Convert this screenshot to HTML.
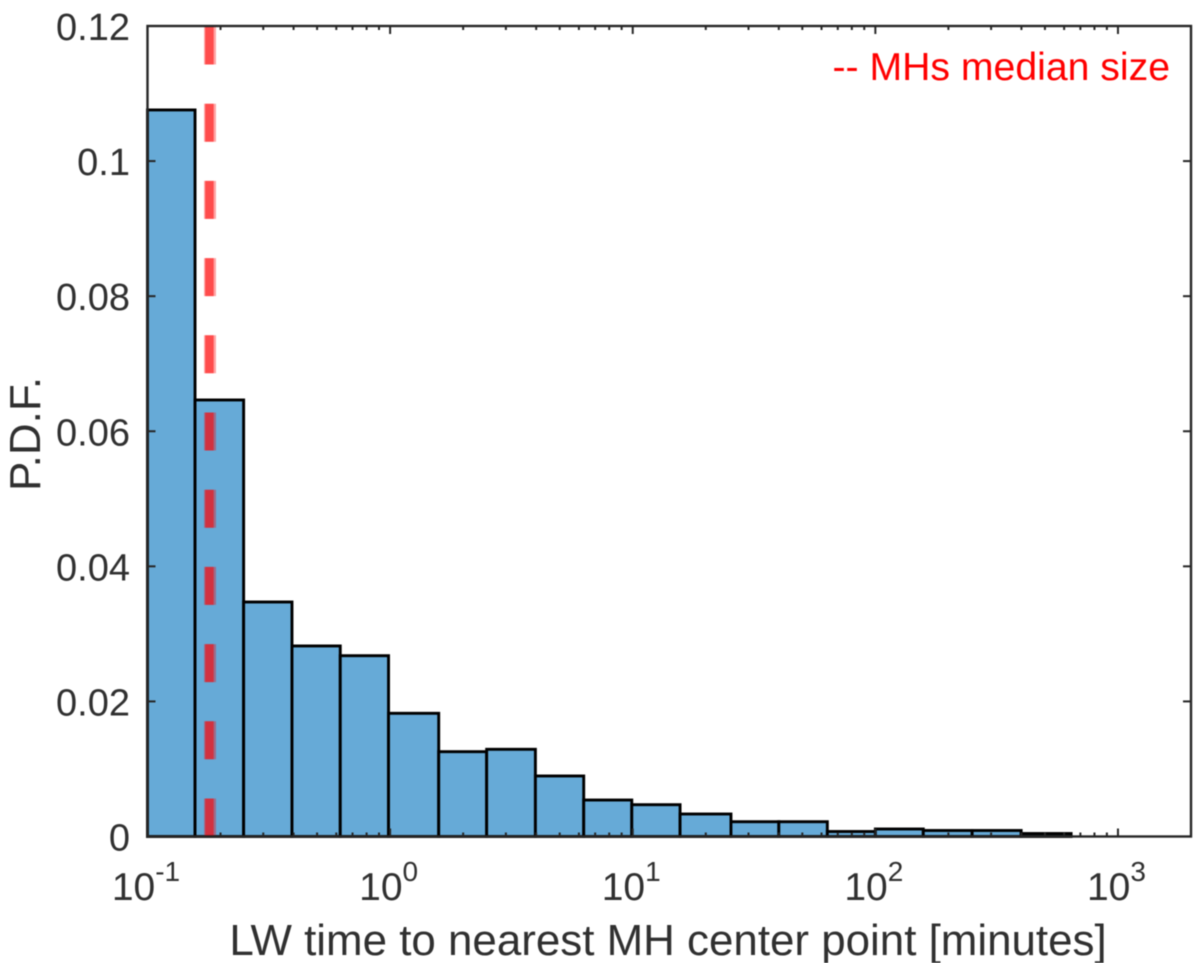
<!DOCTYPE html>
<html lang="en">
<head>
<meta charset="utf-8">
<title>LW time to nearest MH center point</title>
<style>
  html, body { margin: 0; padding: 0; background: #fff; }
  body { width: 1200px; height: 963px; overflow: hidden; }
  svg { display: block; filter: blur(0.5px); }
  text { font-family: "Liberation Sans", Arial, sans-serif; fill: #303030; }
</style>
</head>
<body>
<svg id="chart" xmlns="http://www.w3.org/2000/svg" width="1200" height="963" viewBox="0 0 1200 963">
  <rect x="0" y="0" width="1200" height="963" fill="#ffffff"></rect>
  <g id="bars"></g>
  <g id="median"></g>
  <g id="axes"></g>
  <text x="668" y="955" text-anchor="middle" font-size="43.9">LW time to nearest MH center point [minutes]</text>
  <text transform="translate(40 491) rotate(-90)" font-size="44">P.D.F.</text>
  <text x="1170" y="80" text-anchor="end" font-size="39.2" style="fill:#ff0000">-- MHs median size</text>
</svg>
<script>
const binEdges = [0.1, 0.157, 0.249, 0.394, 0.623, 0.985, 1.586, 2.5, 3.97, 6.28, 9.91, 15.67, 25.4, 40, 63.4, 100, 157.6, 250.6, 399, 641];
const pdfValues = [0.10757, 0.06463, 0.03472, 0.02821, 0.02677, 0.01824, 0.01256, 0.01291, 0.00896, 0.0054, 0.00471, 0.00333, 0.00219, 0.00219, 0.00074, 0.00111, 0.00089, 0.00089, 0.00044];
const medianSize = [0.181];
const yTicks = [0, 0.02, 0.04, 0.06, 0.08, 0.1, 0.12];
const yTickLabels = ['0', '0.02', '0.04', '0.06', '0.08', '0.1', '0.12'];
const xMajorTicks = [0.1, 1, 10, 100, 1000];
const xExponents = ['-1', '0', '1', '2', '3'];
const xMinorTicks = [0.2, 0.3, 0.4, 0.5, 0.6, 0.7, 0.8, 0.9, 2, 3, 4, 5, 6, 7, 8, 9, 20, 30, 40, 50, 60, 70, 80, 90, 200, 300, 400, 500, 600, 700, 800, 900];
const xDomain = [0.1, 2000];
const yDomain = [0, 0.12];

const plotLeft = 147.5, plotRight = 1191, plotTop = 26, plotBottom = 836.5;
const NS = 'http://www.w3.org/2000/svg';

function xScale(v) {
  const a = Math.log10(xDomain[0]), b = Math.log10(xDomain[1]);
  return plotLeft + (Math.log10(v) - a) / (b - a) * (plotRight - plotLeft);
}
function yScale(v) {
  return plotBottom - (v - yDomain[0]) / (yDomain[1] - yDomain[0]) * (plotBottom - plotTop);
}
function make(tag, parent, attrs) {
  const el = document.createElementNS(NS, tag);
  for (const k in attrs) el.setAttribute(k, attrs[k]);
  parent.appendChild(el);
  return el;
}

const barsG = document.getElementById('bars');
pdfValues.forEach(function (v, i) {
  const x0 = xScale(binEdges[i]), x1 = xScale(binEdges[i + 1]), y = yScale(v);
  const bar = make('rect', barsG, { x: x0, y: y, width: x1 - x0, height: plotBottom - y, fill: '#66aad7', stroke: '#000000', 'stroke-width': 2.9 });
  
  
});

const medianG = document.getElementById('median');
const mx = xScale(medianSize[0]);
const halo = make('line', medianG, { x1: mx, x2: mx, y1: plotBottom, y2: plotTop, stroke: 'rgba(255,0,0,0.35)', 'stroke-width': 12, 'stroke-dasharray': '38 39.2' });


const core = make('line', medianG, { x1: mx - 0.6, x2: mx - 0.6, y1: plotBottom, y2: plotTop, stroke: 'rgba(255,0,0,0.54)', 'stroke-width': 8.5, 'stroke-dasharray': '38 39.2' });



const axesG = document.getElementById('axes');
const axisColor = '#262626';
function tick(x1, y1, x2, y2, name) {
  const t = make('line', axesG, { x1: x1, y1: y1, x2: x2, y2: y2, stroke: axisColor, 'stroke-width': 2 });
  
  
}
xMinorTicks.forEach(function (v) {
  const x = xScale(v);
  tick(x, plotBottom, x, plotBottom - 4, 'x-minor-tick');
  tick(x, plotTop, x, plotTop + 4, 'x-minor-tick-top');
});
xMajorTicks.forEach(function (v, i) {
  const x = xScale(v);
  tick(x, plotBottom, x, plotBottom - 8, 'x-major-tick');
  tick(x, plotTop, x, plotTop + 8, 'x-major-tick-top');
  const label = make('text', axesG, { x: x - 1.5, y: 900, 'text-anchor': 'middle', 'font-size': 39 });
  
  
  label.appendChild(document.createTextNode('10'));
  const sup = make('tspan', label, { dy: -19, 'font-size': 28 });
  sup.textContent = xExponents[i];
});
yTicks.forEach(function (v, i) {
  const y = yScale(v);
  tick(plotLeft, y, plotLeft + 8, y, 'y-tick');
  tick(plotRight, y, plotRight - 8, y, 'y-tick-right');
  const label = make('text', axesG, { x: 130, y: y + 14, 'text-anchor': 'end', 'font-size': 38 });
  
  
  label.textContent = yTickLabels[i];
});
const frame = make('rect', axesG, { x: plotLeft, y: plotTop, width: plotRight - plotLeft, height: plotBottom - plotTop, fill: 'none', stroke: axisColor, 'stroke-width': 2.4 });


</script>
</body>
</html>
